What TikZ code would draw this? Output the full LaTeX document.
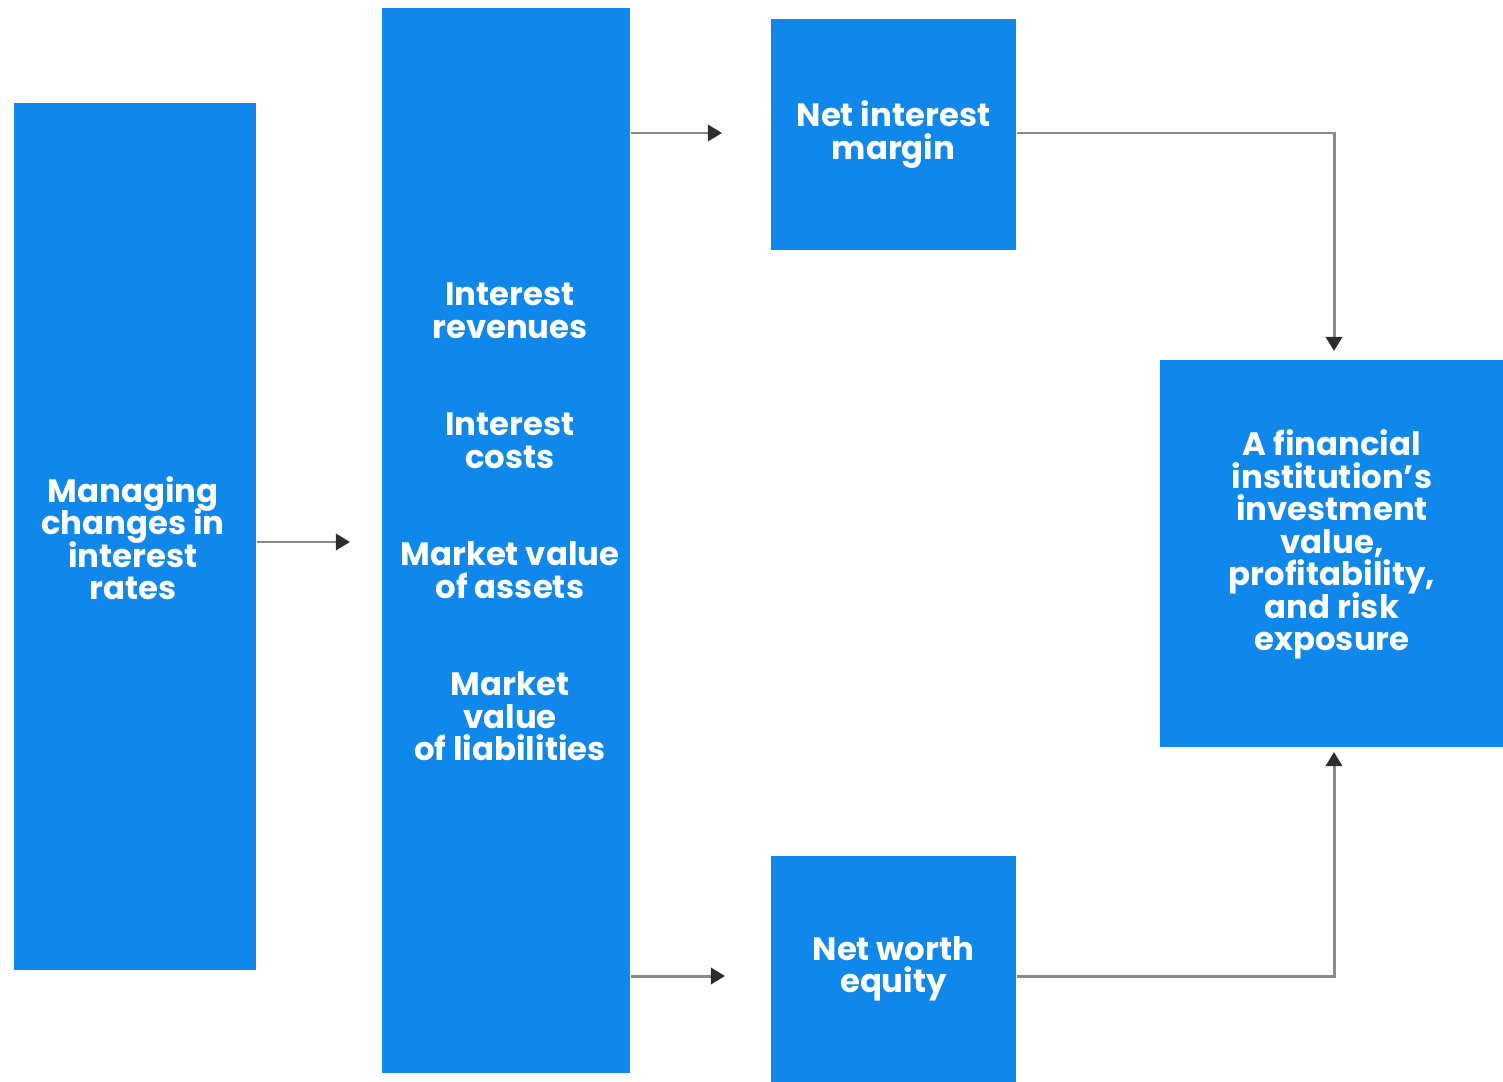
\documentclass[tikz,border=0pt]{standalone}
\usepackage{fontspec}
\setmainfont{Poppins}
\usetikzlibrary{arrows.meta}
\definecolor{boxblue}{RGB}{15,135,235}
\definecolor{linegray}{RGB}{138,138,138}
\definecolor{tipdark}{RGB}{45,45,45}
\newcommand\boxfont{\bfseries\fontsize{9.2}{9.25}\selectfont\lineskiplimit=-5pt\relax}
\begin{document}
\begin{tikzpicture}[x=0.01cm, y=-0.01cm,
    blk/.style={fill=boxblue, inner sep=0pt, text=white, align=center,
      font=\boxfont},
    lbl/.style={text=white, align=center, inner sep=0pt, font=\boxfont},
    conn/.style={draw=linegray, line width=0.85pt,
      -{Triangle[length=4pt, width=4.6pt, color=tipdark]}}]
    \useasboundingbox (0,0) rectangle (1503,1082);
    \node[blk, minimum width=2.42cm, minimum height=8.67cm] (rates) at (135,536.5) {};
    \node[lbl] (ratestext) at (133,538)
      {Managing\\changes in\\interest\\rates};
    \node[blk, minimum width=2.48cm, minimum height=10.65cm] (items) at (506,540.5) {};
    \node[lbl] (itemstext) at (510,522)
      {Interest\\revenues\\[18.5pt]Interest\\costs\\[18.5pt]Market value\\of assets\\[18.5pt]Market\\value\\of liabilities};
    \node[blk, minimum width=2.45cm, minimum height=2.31cm] (nim) at (893.5,134.5)
      {Net interest\\margin};
    \node[blk, minimum width=2.45cm, minimum height=2.26cm] (nwe) at (893.5,969)
      {Net worth\\equity};
    \node[blk, minimum width=3.43cm, minimum height=3.87cm] (inst) at (1331.5,553.5) {};
    \node[lbl] (insttext) at (1332,544.5)
      {A financial\\institution's\\investment\\value,\\profitability,\\and risk\\exposure};
    \coordinate (tip1) at (350,542);
    \coordinate (tip2) at (722,133);
    \coordinate (tip3) at (725,976);
    \coordinate (tip4) at (1334,351);
    \coordinate (tip5) at (1334,752);
    \draw[conn] (rates.east |- tip1) -- (tip1);
    \draw[conn] (items.east |- tip2) -- (tip2);
    \draw[conn] (items.east |- tip3) -- (tip3);
    \draw[conn] (nim.east |- tip2) -| (tip4);
    \draw[conn] (nwe.east |- tip3) -| (tip5);
\end{tikzpicture}
\end{document}
